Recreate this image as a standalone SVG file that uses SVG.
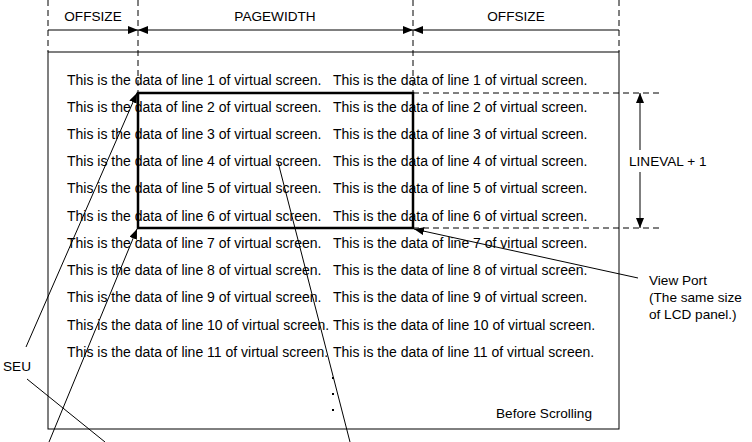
<svg xmlns="http://www.w3.org/2000/svg" width="752" height="442" viewBox="0 0 752 442">
  <style>
    text { font-family: "Liberation Sans", Arial, sans-serif; fill: #000; }
    .data { font-size: 14px; }
    .lbl { font-size: 13.6px; }
    .thin { stroke: #000; stroke-width: 1; fill: none; }
    .dash { stroke: #000; stroke-width: 1; fill: none; stroke-dasharray: 6 4; }
    .port { stroke: #000; stroke-width: 2.5; fill: none; }
  </style>
  <defs>
    <marker id="arrow" viewBox="0 0 10 8" refX="10" refY="4" markerWidth="10" markerHeight="8" markerUnits="userSpaceOnUse" orient="auto-start-reverse">
      <path d="M0,0 L10,4 L0,8 Z" fill="#000"/>
    </marker>
  </defs>
  <rect width="752" height="442" fill="#fff"/>

  <!-- virtual screen -->
  <g id="virtual-screen">
    <rect class="thin" x="48" y="52" width="571" height="377"/>
    <g class="data">
      <text x="67" y="85">This is the data of line 1 of virtual screen.</text>
      <text x="333" y="85">This is the data of line 1 of virtual screen.</text>
      <text x="67" y="112">This is the data of line 2 of virtual screen.</text>
      <text x="333" y="112">This is the data of line 2 of virtual screen.</text>
      <text x="67" y="139">This is the data of line 3 of virtual screen.</text>
      <text x="333" y="139">This is the data of line 3 of virtual screen.</text>
      <text x="67" y="166">This is the data of line 4 of virtual screen.</text>
      <text x="333" y="166">This is the data of line 4 of virtual screen.</text>
      <text x="67" y="193">This is the data of line 5 of virtual screen.</text>
      <text x="333" y="193">This is the data of line 5 of virtual screen.</text>
      <text x="67" y="221">This is the data of line 6 of virtual screen.</text>
      <text x="333" y="221">This is the data of line 6 of virtual screen.</text>
      <text x="67" y="248">This is the data of line 7 of virtual screen.</text>
      <text x="333" y="248">This is the data of line 7 of virtual screen.</text>
      <text x="67" y="275">This is the data of line 8 of virtual screen.</text>
      <text x="333" y="275">This is the data of line 8 of virtual screen.</text>
      <text x="67" y="302">This is the data of line 9 of virtual screen.</text>
      <text x="333" y="302">This is the data of line 9 of virtual screen.</text>
      <text x="67" y="330">This is the data of line 10 of virtual screen.</text>
      <text x="333" y="330">This is the data of line 10 of virtual screen.</text>
      <text x="67" y="357">This is the data of line 11 of virtual screen.</text>
      <text x="333" y="357">This is the data of line 11 of virtual screen.</text>
    </g>
    <g fill="#000">
      <rect x="332" y="377" width="2" height="2"/>
      <rect x="332" y="393" width="2" height="2"/>
      <rect x="332" y="409" width="2" height="2"/>
    </g>
    <text class="lbl" x="496" y="418">Before Scrolling</text>
  </g>

  <!-- view port -->
  <g id="view-port">
    <rect class="port" x="138" y="93" width="275" height="135"/>
  </g>

  <!-- labels -->
  <g id="label-offsize-left"><text class="lbl" x="93" y="21" text-anchor="middle">OFFSIZE</text></g>
  <g id="label-pagewidth"><text class="lbl" x="275" y="21" text-anchor="middle">PAGEWIDTH</text></g>
  <g id="label-offsize-right"><text class="lbl" x="516" y="21" text-anchor="middle">OFFSIZE</text></g>
  <g id="label-lineval"><text class="lbl" x="629" y="166">LINEVAL + 1</text></g>
  <g id="label-viewport">
    <text class="lbl" x="649" y="285">View Port</text>
    <text class="lbl" x="649" y="302">(The same size</text>
    <text class="lbl" x="649" y="319">of LCD panel.)</text>
  </g>
  <g id="label-seu"><text class="lbl" x="3" y="371">SEU</text></g>

  <!-- connectors -->
  <g id="connectors">
    <!-- extension lines -->
    <line class="dash" x1="48" y1="0" x2="48" y2="52"/>
    <line class="dash" x1="138" y1="0" x2="138" y2="93"/>
    <line class="dash" x1="413" y1="0" x2="413" y2="93"/>
    <line class="dash" x1="619" y1="0" x2="619" y2="52"/>
    <line class="dash" x1="413" y1="93" x2="663" y2="93"/>
    <line class="dash" x1="413" y1="228" x2="663" y2="228"/>
    <!-- horizontal dimensions -->
    <line class="thin" x1="48" y1="30" x2="138" y2="30" marker-end="url(#arrow)"/>
    <line class="thin" x1="138" y1="30" x2="413" y2="30" marker-start="url(#arrow)" marker-end="url(#arrow)"/>
    <line class="thin" x1="413" y1="30" x2="619" y2="30" marker-start="url(#arrow)"/>
    <!-- vertical dimension -->
    <line class="thin" x1="640" y1="93" x2="640" y2="150" marker-start="url(#arrow)"/>
    <line class="thin" x1="640" y1="172" x2="640" y2="228" marker-end="url(#arrow)"/>
    <!-- leaders -->
    <line class="thin" x1="26" y1="347" x2="137" y2="93" marker-end="url(#arrow)"/>
    <line class="thin" x1="49" y1="442" x2="137" y2="229" marker-end="url(#arrow)"/>
    <line class="thin" x1="27" y1="379" x2="105" y2="442"/>
    <line class="thin" x1="278" y1="162" x2="350" y2="442"/>
    <line class="thin" x1="638" y1="278" x2="414" y2="229" marker-end="url(#arrow)"/>
  </g>
</svg>
